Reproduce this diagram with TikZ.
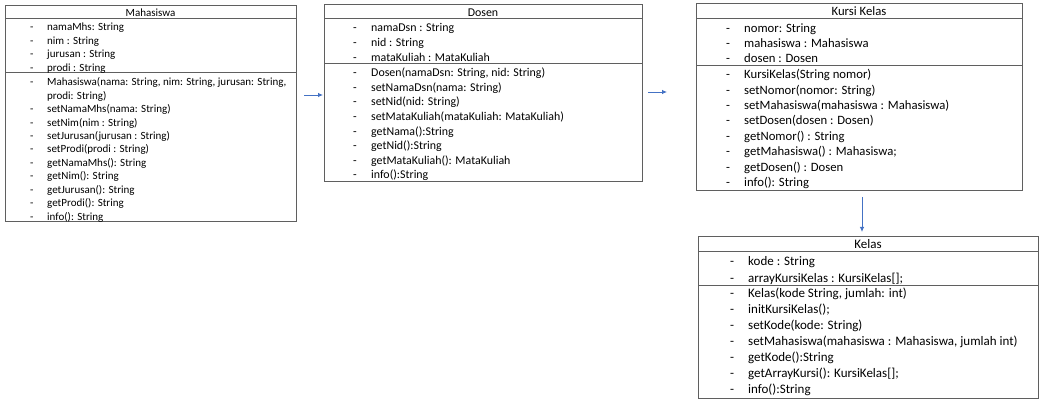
\documentclass[tikz,border=0pt]{standalone}
\usepackage{fontspec}
\setmainfont{Carlito}
\usetikzlibrary{arrows.meta}
\definecolor{boxgray}{RGB}{95,95,95}
\definecolor{arrowblue}{RGB}{68,114,196}

\begin{document}
\begin{tikzpicture}[x=1pt, y=-1pt,
	 classbox/.style={draw=boxgray, line width=1pt, inner sep=0pt, anchor=north west},
	 sepline/.style={draw=boxgray, line width=1pt},
	 row/.style={anchor=west, inner sep=0pt, text height=1.5ex, text depth=0.4ex, yshift=-2pt},
	 assoc/.style={arrowblue, line width=0.8pt, -{Latex[length=5pt, width=4.5pt]}}]
	 \useasboundingbox (0,0) rectangle (1045,403);
	 
	 % Mahasiswa
	 \begin{scope}[font=\fontsize{11}{12}\selectfont]
	 \node[classbox, minimum width=291pt, minimum height=216pt] (maha) at (5,5) {};
	 \node[row, anchor=center] (maha-title) at (150.5,12) {Mahasiswa};
	 \draw[sepline] (maha.west |- 0,19) -- (maha.east |- 0,19);
	 \draw[sepline] (maha.west |- 0,73) -- (maha.east |- 0,73);
	 \foreach \t [count=\i] in {{namaMhs: String}, {nim : String}, {jurusan : String}, {prodi : String}}
	 {
	 \node[row] (maha-da\i) at (30, {26+13.5*(\i-1)}) {-};
	 \node[row] (maha-a\i) at (47, {26+13.5*(\i-1)}) {\t};
	 }
	 \node[row] (maha-dm0) at (30, 81) {-};
	 \node[row] (maha-m0) at (47, 81) {Mahasiswa(nama: String, nim: String, jurusan: String,};
	 \node[row] (maha-m0b) at (47, 94.5) {prodi: String)};
	 \foreach \t [count=\i] in {{setNamaMhs(nama: String)}, {setNim(nim : String)}, {setJurusan(jurusan : String)}, {setProdi(prodi : String)}, {getNamaMhs(): String}, {getNim(): String}, {getJurusan(): String}, {getProdi(): String}, {info(): String}}
	 {
	 \node[row] (maha-dm\i) at (30, {108+13.45*(\i-1)}) {-};
	 \node[row] (maha-m\i) at (47, {108+13.45*(\i-1)}) {\t};
	 }
	 \end{scope}
	 
	 % Dosen
	 \begin{scope}[font=\fontsize{11.9}{13}\selectfont]
	 \node[classbox, minimum width=318pt, minimum height=177pt] (dosen) at (324,4) {};
	 \node[row, anchor=center] (dosen-title) at (483,11.5) {Dosen};
	 \draw[sepline] (dosen.west |- 0,19) -- (dosen.east |- 0,19);
	 \draw[sepline] (dosen.west |- 0,64) -- (dosen.east |- 0,64);
	 \foreach \t [count=\i] in {{namaDsn : String}, {nid : String}, {mataKuliah : MataKuliah}}
	 {
	 \node[row] (dosen-da\i) at (353, {27+15*(\i-1)}) {-};
	 \node[row] (dosen-a\i) at (371, {27+15*(\i-1)}) {\t};
	 }
	 \foreach \t [count=\i] in {{Dosen(namaDsn: String, nid: String)}, {setNamaDsn(nama: String)}, {setNid(nid: String)}, {setMataKuliah(mataKuliah: MataKuliah)}, {getNama():String}, {getNid():String}, {getMataKuliah(): MataKuliah}, {info():String}}
	 {
	 \node[row] (dosen-dm\i) at (353, {72+14.6*(\i-1)}) {-};
	 \node[row] (dosen-m\i) at (371, {72+14.6*(\i-1)}) {\t};
	 }
	 \end{scope}
	 
	 % Kursi Kelas
	 \begin{scope}[font=\fontsize{12.7}{14}\selectfont]
	 \node[classbox, minimum width=326pt, minimum height=187pt] (kursi) at (696,3) {};
	 \node[row, anchor=center] (kursi-title) at (859,11) {Kursi Kelas};
	 \draw[sepline] (kursi.west |- 0,19) -- (kursi.east |- 0,19);
	 \draw[sepline] (kursi.west |- 0,66) -- (kursi.east |- 0,66);
	 \foreach \t [count=\i] in {{nomor: String}, {mahasiswa : Mahasiswa}, {dosen : Dosen}}
	 {
	 \node[row] (kursi-da\i) at (726, {28+15*(\i-1)}) {-};
	 \node[row] (kursi-a\i) at (744, {28+15*(\i-1)}) {\t};
	 }
	 \foreach \t [count=\i] in {{KursiKelas(String nomor)}, {setNomor(nomor: String)}, {setMahasiswa(mahasiswa : Mahasiswa)}, {setDosen(dosen : Dosen)}, {getNomor() : String}, {getMahasiswa() : Mahasiswa;}, {getDosen() : Dosen}, {info(): String}}
	 {
	 \node[row] (kursi-dm\i) at (726, {74+15.4*(\i-1)}) {-};
	 \node[row] (kursi-m\i) at (744, {74+15.4*(\i-1)}) {\t};
	 }
	 \end{scope}
	 
	 % Kelas
	 \begin{scope}[font=\fontsize{13}{14}\selectfont]
	 \node[classbox, minimum width=340pt, minimum height=162pt] (kelas) at (698,236) {};
	 \node[row, anchor=center] (kelas-title) at (868,244) {Kelas};
	 \draw[sepline] (kelas.west |- 0,252) -- (kelas.east |- 0,252);
	 \draw[sepline] (kelas.west |- 0,286) -- (kelas.east |- 0,286);
	 \foreach \t [count=\i] in {{kode : String}, {arrayKursiKelas : KursiKelas[];}}
	 {
	 \node[row] (kelas-da\i) at (730, {261+17*(\i-1)}) {-};
	 \node[row] (kelas-a\i) at (748, {261+17*(\i-1)}) {\t};
	 }
	 \foreach \t [count=\i] in {{Kelas(kode String, jumlah: int)}, {initKursiKelas();}, {setKode(kode: String)}, {setMahasiswa(mahasiswa : Mahasiswa, jumlah int)}, {getKode():String}, {getArrayKursi(): KursiKelas[];}, {info():String}}
	 {
	 \node[row] (kelas-dm\i) at (730, {293+16*(\i-1)}) {-};
	 \node[row] (kelas-m\i) at (748, {293+16*(\i-1)}) {\t};
	 }
	 \end{scope}
	 
	 % arrows
	 \coordinate (a1s) at (304,95);
	 \coordinate (a1e) at (323,95);
	 \coordinate (a2s) at (648,92);
	 \coordinate (a2e) at (667,92);
	 \coordinate (a3s) at (862,197);
	 \coordinate (a3e) at (862,232);
	 \draw[assoc] (a1s) -- (a1e);
	 \draw[assoc] (a2s) -- (a2e);
	 \draw[assoc] (a3s) -- (a3e);
\end{tikzpicture}
\end{document}
